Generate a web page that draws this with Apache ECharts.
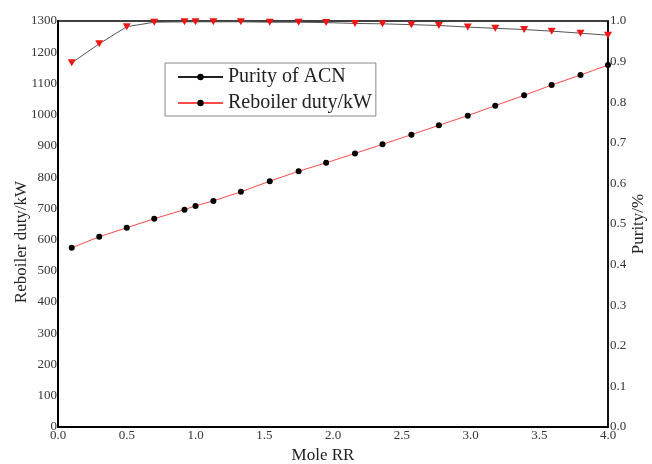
<!DOCTYPE html>
<html>
<head>
<meta charset="utf-8">
<script src="https://cdn.jsdelivr.net/npm/echarts@6/dist/echarts.min.js"></script>
<style>
html,body{margin:0;padding:0;background:#fff;}
#chart{width:652px;height:464px;}
</style>
</head>
<body>
<div id="chart"></div>
<script>
// Mole reflux ratio (x)
const moleRR = [0.1, 0.3, 0.5, 0.7, 0.92, 1.0, 1.13, 1.33, 1.54, 1.75, 1.95, 2.16, 2.36, 2.57, 2.77, 2.98, 3.18, 3.39, 3.59, 3.8, 4.0];
// Purity of ACN (right axis, fraction)
const purity = [0.897, 0.944, 0.986, 0.997, 0.998, 0.998, 0.998, 0.998, 0.997, 0.997, 0.996, 0.994, 0.993, 0.991, 0.989, 0.985, 0.982, 0.979, 0.975, 0.970, 0.965];
// Reboiler duty, kW (left axis)
const reboiler = [574, 609, 638, 667, 696, 708, 724, 753, 787, 819, 846, 876, 905, 936, 966, 997, 1029, 1062, 1095, 1127, 1159];

const seriesNames = ['Purity of ACN', 'Reboiler duty/kW'];
const xName = 'Mole RR';
const yLeftName = 'Reboiler duty/kW';
const yRightName = 'Purity/%';

const font = '"Liberation Serif", "Times New Roman", serif';
const pair = (xs, ys) => xs.map((x, i) => [x, ys[i]]);

const chart = echarts.init(document.getElementById('chart'), null, {renderer: 'canvas'});
const axisLabelStyle = {color: '#333', fontFamily: font, fontSize: 13};
chart.setOption({
  animation: false,
  backgroundColor: '#fff',
  grid: {left: 58, right: 44, top: 21, bottom: 37, containLabel: false, outerBoundsMode: 'none',
         show: true, borderColor: '#000', borderWidth: 1.5},
  legend: {
    orient: 'vertical', left: 165, top: 63,
    padding: [4, 4, 3, 12], itemGap: 6,
    itemWidth: 45, itemHeight: 8,
    borderColor: '#888', borderWidth: 1,
    data: seriesNames,
    textStyle: {fontFamily: font, fontSize: 20, color: '#222'}
  },
  xAxis: {
    type: 'value', min: 0, max: 4, interval: 0.5,
    name: xName, nameLocation: 'middle', nameGap: 20, nameMoveOverlap: false,
    nameTextStyle: {fontFamily: font, fontSize: 17, color: '#222', padding: [0, 20, 0, 0]},
    axisLine: {lineStyle: {color: '#000', width: 2}},
    axisTick: {show: false},
    splitLine: {show: false},
    axisLabel: Object.assign({margin: 2, formatter: v => v.toFixed(1)}, axisLabelStyle)
  },
  yAxis: [{
    type: 'value', min: 0, max: 1300, interval: 100, position: 'left',
    name: yLeftName, nameLocation: 'middle', nameGap: 28, nameMoveOverlap: false,
    nameTextStyle: {fontFamily: font, fontSize: 17, color: '#222', padding: [0, 36, 0, 0]},
    axisLine: {show: true, lineStyle: {color: '#000', width: 2}},
    axisTick: {show: false},
    splitLine: {show: false},
    axisLabel: Object.assign({margin: 1, formatter: v => String(v)}, axisLabelStyle)
  }, {
    type: 'value', min: 0, max: 1, interval: 0.1, position: 'right',
    name: yRightName, nameLocation: 'middle', nameGap: 22, nameMoveOverlap: false,
    nameTextStyle: {fontFamily: font, fontSize: 17, color: '#222'},
    axisLine: {show: true, lineStyle: {color: '#000', width: 1.5}},
    axisTick: {show: false},
    splitLine: {show: false},
    axisLabel: Object.assign({margin: 2, formatter: v => v.toFixed(1)}, axisLabelStyle)
  }],
  series: [{
    name: 'purity-marks', type: 'line', yAxisIndex: 1,
    data: pair(moleRR, purity),
    symbol: 'triangle', symbolRotate: 180, symbolSize: [8, 7],
    lineStyle: {color: '#555', width: 1},
    itemStyle: {color: '#f01515'},
    z: 3
  }, {
    name: seriesNames[1], type: 'line', yAxisIndex: 0,
    data: pair(moleRR, reboiler),
    symbol: 'circle', symbolSize: 6,
    lineStyle: {color: '#ff4a4a', width: 1},
    itemStyle: {color: '#000'},
    z: 3
  }, {
    // legend entry for purity: black line with black dot
    name: seriesNames[0], type: 'line', yAxisIndex: 1, data: [],
    symbol: 'circle', symbolSize: 6,
    lineStyle: {color: '#222', width: 1},
    itemStyle: {color: '#000'}
  }]
});
</script>
</body>
</html>
